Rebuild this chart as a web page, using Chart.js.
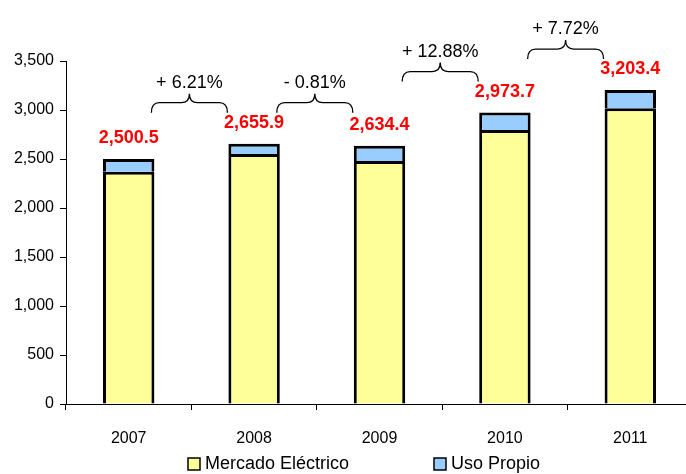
<!DOCTYPE html>
<html>
<head>
<meta charset="utf-8">
<script src="https://cdn.jsdelivr.net/npm/chart.js@4.4.1/dist/chart.umd.min.js"></script>
<style>
  html, body { margin: 0; padding: 0; background: #fff; }
  #wrap { width: 686px; height: 474px; overflow: hidden; position: relative; }
  canvas { display: block; }
</style>
</head>
<body>
<div id="wrap"><canvas id="c" width="694" height="474"></canvas></div>
<script>
const categories = ['2007', '2008', '2009', '2010', '2011'];
const mercadoElectrico = [2370.3, 2551.2, 2479.1, 2796.4, 3017.6];
const usoPropio = [130.2, 104.7, 155.3, 177.3, 185.8];
const totals = [2500.5, 2655.9, 2634.4, 2973.7, 3203.4];
const changeLabels = ['+ 6.21%', '- 0.81%', '+ 12.88%', '+ 7.72%'];
const seriesNames = ['Mercado Eléctrico', 'Uso Propio'];
const yTicks = { min: 0, max: 3500, step: 500 };

const FONT = '"Liberation Sans", Arial, sans-serif';
const YELLOW = '#FFFF99';
const BLUE = '#99CCFF';

const annotations = {
  id: 'annotations',
  afterDatasetsDraw(chart) {
    const ctx = chart.ctx;
    const y = chart.scales.y;
    const meta1 = chart.getDatasetMeta(1);
    ctx.save();
    // totals
    ctx.fillStyle = '#FF0000';
    ctx.font = 'bold 18px ' + FONT;
    ctx.textAlign = 'center';
    ctx.textBaseline = 'middle';
    totals.forEach((t, i) => {
      const bar = meta1.data[i];
      ctx.fillText(t.toLocaleString('en-US', {minimumFractionDigits: 1, maximumFractionDigits: 1}), bar.x, y.getPixelForValue(t) - 21);
    });
    // braces
    ctx.strokeStyle = '#000';
    ctx.lineWidth = 1.3;
    ctx.fillStyle = '#000';
    ctx.font = '18px ' + FONT;
    changeLabels.forEach((lab, i) => {
      const a = meta1.data[i], b = meta1.data[i + 1];
      const x1 = a.x + a.width / 2 - 3;
      const x2 = b.x - b.width / 2 - 1;
      const xc = (x1 + x2) / 2;
      const yb = Math.min(y.getPixelForValue(totals[i]), y.getPixelForValue(totals[i + 1])) - 31;
      const yl = yb - 10;
      const yt = yb - 19;
      ctx.beginPath();
      ctx.moveTo(x1, yb);
      ctx.quadraticCurveTo(x1, yl, x1 + 8, yl);
      ctx.lineTo(xc - 8, yl);
      ctx.quadraticCurveTo(xc, yl, xc, yt);
      ctx.quadraticCurveTo(xc, yl, xc + 8, yl);
      ctx.lineTo(x2 - 8, yl);
      ctx.quadraticCurveTo(x2, yl, x2, yb);
      ctx.stroke();
      ctx.fillText(lab, xc, yb - 30);
    });
    // legend
    const items = [
      { x: 188, color: YELLOW, text: seriesNames[0] },
      { x: 434, color: BLUE, text: seriesNames[1] }
    ];
    const ly = 464;
    ctx.font = '18px ' + FONT;
    ctx.textAlign = 'left';
    items.forEach(it => {
      ctx.fillStyle = it.color;
      ctx.fillRect(it.x, ly - 6, 12, 12);
      ctx.lineWidth = 1.5;
      ctx.strokeStyle = '#000';
      ctx.strokeRect(it.x, ly - 6, 12, 12);
      ctx.fillStyle = '#000';
      ctx.fillText(it.text, it.x + 17, ly);
    });
    ctx.restore();
  }
};

new Chart(document.getElementById('c'), {
  type: 'bar',
  data: {
    labels: categories,
    datasets: [
      { label: seriesNames[0], data: mercadoElectrico, backgroundColor: YELLOW, borderColor: '#000', borderWidth: 3, barPercentage: 0.41, categoryPercentage: 1 },
      { label: seriesNames[1], data: usoPropio, backgroundColor: BLUE, borderColor: '#000', borderWidth: 3, barPercentage: 0.41, categoryPercentage: 1 }
    ]
  },
  options: {
    responsive: false,
    animation: false,
    devicePixelRatio: 1,
    layout: { padding: { top: 61, right: 1, left: 0, bottom: 0 } },
    plugins: { legend: { display: false }, tooltip: { enabled: false } },
    scales: {
      x: {
        stacked: true,
        afterFit(s) { s.height = 70; },
        grid: { offset: true, drawOnChartArea: false, drawTicks: true, tickLength: 6, color: '#000', lineWidth: 1 },
        border: { color: '#000', width: 1 },
        ticks: { color: '#000', font: { family: FONT, size: 16 }, padding: 19, maxRotation: 0 }
      },
      y: {
        stacked: true,
        min: yTicks.min,
        max: yTicks.max,
        afterFit(s) { s.width = 66; },
        grid: { drawOnChartArea: false, drawTicks: true, tickLength: 6, color: '#000', lineWidth: 1 },
        border: { color: '#000', width: 1 },
        ticks: { stepSize: yTicks.step, color: '#000', font: { family: FONT, size: 16 }, padding: 6,
          callback: v => v.toLocaleString('en-US') }
      }
    }
  },
  plugins: [annotations]
});
</script>
</body>
</html>
